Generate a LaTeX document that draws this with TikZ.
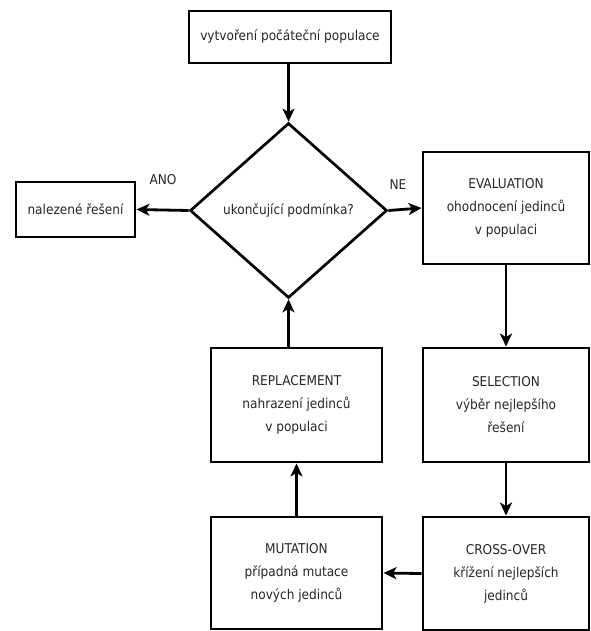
\documentclass[tikz,border=0pt]{standalone}
\usepackage{fontspec}
\setmainfont{DejaVu Sans Condensed}
\usetikzlibrary{shapes.geometric,arrows.meta}
\begin{document}
\begin{tikzpicture}[x=1pt,y=1pt,
  every node/.style={font=\fontsize{13.5}{23}\selectfont, text=black!85},
  box/.style={draw=black, line width=2.9pt, align=center, inner sep=0pt},
  conn/.style={draw=black, line width=2.8pt, -{Stealth[length=13pt,width=12pt,inset=3.5pt]}},
  lab/.style={inner sep=0pt}]
\useasboundingbox (0,0) rectangle (590,-631);
\node[box, minimum width=202, minimum height=52] (start) at (290,-37) {vytvoření počáteční populace};
\node[draw=black, line width=2.7pt, shape=diamond, inner sep=0pt, minimum width=197, minimum height=175] (dec) at (288.5,-210.5) {ukončující podmínka?};
\node[box, minimum width=119, minimum height=55] (found) at (75.5,-209.5) {nalezené řešení};
\node[box, minimum width=166, minimum height=112] (eval) at (506,-208) {EVALUATION\\ohodnocení jedinců\\v populaci};
\node[box, minimum width=166, minimum height=114] (sel) at (506,-405) {SELECTION\\výběr nejlepšího\\řešení};
\node[box, minimum width=166, minimum height=113] (cross) at (506,-573.5) {CROSS-OVER\\křížení nejlepších\\jedinců};
\node[box, minimum width=171, minimum height=112] (mut) at (296.5,-573) {MUTATION\\případná mutace\\nových jedinců};
\node[box, minimum width=171, minimum height=114] (repl) at (296.5,-405) {REPLACEMENT\\nahrazení jedinců\\v populaci};
\node[lab] (ano) at (163,-180) {ANO};
\node[lab] (ne) at (398,-185) {NE};
\coordinate (top) at (dec.north);
\draw[conn] (start.south -| top) -- (dec.north);
\draw[conn] (dec.west) -- (found.east);
\draw[conn] (dec.east) -- (eval.west);
\draw[conn] (eval.south) -- (sel.north);
\draw[conn] (sel.south) -- (cross.north);
\draw[conn] (cross.west) -- (mut.east);
\draw[conn] (mut.north) -- (repl.south);
\draw[conn] (dec.south |- repl.north) -- (dec.south);
\end{tikzpicture}
\end{document}
